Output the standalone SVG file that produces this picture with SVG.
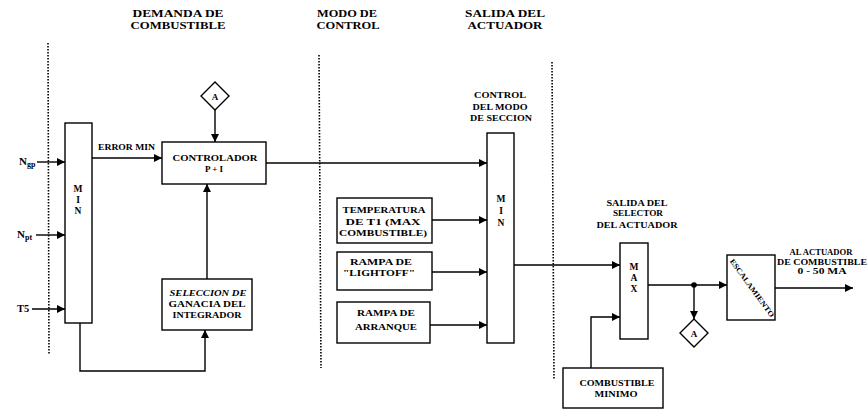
<svg xmlns="http://www.w3.org/2000/svg" width="868" height="409" viewBox="0 0 868 409">
<defs>
<marker id="arr" viewBox="0 0 10 10" refX="10" refY="5" markerWidth="9" markerHeight="8" markerUnits="userSpaceOnUse" orient="auto">
<path d="M0,0 L10,5 L0,10 Z" fill="#000"/>
</marker>
<style>
text{font-family:"Liberation Serif","Times New Roman",serif;fill:#000;font-weight:bold}
.t{font-size:11px;text-anchor:middle}
.s{font-size:9px;text-anchor:middle}
.v{font-size:9.5px;text-anchor:middle}
.box{fill:#fff;stroke:#000;stroke-width:1.4}
.ln{fill:none;stroke:#000;stroke-width:1.4}
.dot{fill:none;stroke:#000;stroke-width:1.6;stroke-dasharray:1.5 1.5}
</style>
</defs>
<rect width="868" height="409" fill="#fff"/>

<g id="titles">
<text class="t" x="178" y="17" textLength="91" lengthAdjust="spacingAndGlyphs">DEMANDA DE</text>
<text class="t" x="178" y="29" textLength="95" lengthAdjust="spacingAndGlyphs">COMBUSTIBLE</text>
<text class="t" x="347" y="17" textLength="60" lengthAdjust="spacingAndGlyphs">MODO DE</text>
<text class="t" x="348" y="29" textLength="63" lengthAdjust="spacingAndGlyphs">CONTROL</text>
<text class="t" x="505" y="17" textLength="80" lengthAdjust="spacingAndGlyphs">SALIDA DEL</text>
<text class="t" x="505" y="29" textLength="75" lengthAdjust="spacingAndGlyphs">ACTUADOR</text>
</g>

<g id="dividers">
<line class="dot" x1="48" y1="43" x2="49" y2="355"/>
<line class="dot" x1="319" y1="55" x2="321" y2="368"/>
<line class="dot" x1="552" y1="62" x2="554" y2="380"/>
</g>

<g id="inputs">
<text x="19" y="165" font-size="11">N<tspan font-size="8" dy="2">gp</tspan></text>
<text x="17" y="238" font-size="11">N<tspan font-size="8" dy="2">pt</tspan></text>
<text x="17" y="312" font-size="10.5">T5</text>
</g>

<g id="min1">
<rect class="box" x="65" y="123" width="27" height="200"/>
<text class="v" x="78" y="192">M</text>
<text class="v" x="78" y="203">I</text>
<text class="v" x="78" y="214">N</text>
</g>

<g id="controlador">
<rect class="box" x="162" y="142" width="104" height="42"/>
<text class="s" x="215" y="161" textLength="85" lengthAdjust="spacingAndGlyphs">CONTROLADOR</text>
<text class="s" x="214" y="172">P + I</text>
</g>

<g id="diamondA1">
<path class="box" d="M215,82 L229,96 L215,110 L201,96 Z"/>
<text class="s" x="215" y="99.5">A</text>
</g>

<g id="seleccion">
<rect class="box" x="162" y="279" width="90" height="51"/>
<text class="s" x="208" y="296" font-style="italic" textLength="77" lengthAdjust="spacingAndGlyphs">SELECCION DE</text>
<text class="s" x="207" y="307" textLength="77" lengthAdjust="spacingAndGlyphs">GANACIA DEL</text>
<text class="s" x="207" y="318" textLength="69" lengthAdjust="spacingAndGlyphs">INTEGRADOR</text>
</g>

<g id="temperatura">
<rect class="box" x="337" y="198" width="95" height="45"/>
<text class="s" x="384" y="213" textLength="83" lengthAdjust="spacingAndGlyphs">TEMPERATURA</text>
<text class="s" x="383" y="225" textLength="75" lengthAdjust="spacingAndGlyphs">DE T1 (MAX</text>
<text class="s" x="383" y="236" textLength="88" lengthAdjust="spacingAndGlyphs">COMBUSTIBLE)</text>
</g>

<g id="lightoff">
<rect class="box" x="337" y="252" width="95" height="38"/>
<text class="s" x="381" y="265" textLength="62" lengthAdjust="spacingAndGlyphs">RAMPA DE</text>
<text class="s" x="379" y="276" textLength="72" lengthAdjust="spacingAndGlyphs">"LIGHTOFF"</text>
</g>

<g id="arranque">
<rect class="box" x="337" y="302" width="93" height="41"/>
<text class="s" x="386" y="316" textLength="58" lengthAdjust="spacingAndGlyphs">RAMPA DE</text>
<text class="s" x="386" y="330" textLength="62" lengthAdjust="spacingAndGlyphs">ARRANQUE</text>
</g>

<g id="min2">
<text class="s" x="500" y="98" textLength="52" lengthAdjust="spacingAndGlyphs">CONTROL</text>
<text class="s" x="500" y="110" textLength="55" lengthAdjust="spacingAndGlyphs">DEL MODO</text>
<text class="s" x="501" y="121" textLength="62" lengthAdjust="spacingAndGlyphs">DE SECCION</text>
<rect class="box" x="487" y="133" width="27" height="210"/>
<text class="v" x="501" y="202">M</text>
<text class="v" x="501" y="214">I</text>
<text class="v" x="501" y="226">N</text>
</g>

<g id="max">
<text class="s" x="637" y="206" textLength="61" lengthAdjust="spacingAndGlyphs">SALIDA DEL</text>
<text class="s" x="638" y="216" textLength="50" lengthAdjust="spacingAndGlyphs">SELECTOR</text>
<text class="s" x="637" y="228" textLength="81" lengthAdjust="spacingAndGlyphs">DEL ACTUADOR</text>
<rect class="box" x="620" y="243" width="28" height="96"/>
<text class="v" x="634" y="270">M</text>
<text class="v" x="634" y="281">A</text>
<text class="v" x="634" y="292">X</text>
</g>

<g id="diamondA2">
<path class="box" d="M694,319 L708,333 L694,347 L680,333 Z"/>
<text class="s" x="694" y="336.5">A</text>
</g>

<g id="escalamiento">
<rect class="box" x="727" y="255" width="48" height="65"/>
<text font-size="7.5" text-anchor="middle" transform="translate(752,288) rotate(54)" y="2.5" textLength="70" lengthAdjust="spacingAndGlyphs">ESCALAMIENTO</text>
</g>

<g id="salida">
<text class="s" x="821" y="255" textLength="63" lengthAdjust="spacingAndGlyphs">AL ACTUADOR</text>
<text class="s" x="822" y="265" textLength="90" lengthAdjust="spacingAndGlyphs">DE COMBUSTIBLE</text>
<text class="s" x="822" y="274" textLength="49" lengthAdjust="spacingAndGlyphs">0 - 50 MA</text>
</g>

<g id="minimo">
<rect class="box" x="563" y="368" width="100" height="40"/>
<text class="s" x="617" y="386" textLength="75" lengthAdjust="spacingAndGlyphs">COMBUSTIBLE</text>
<text class="s" x="616" y="397" textLength="43" lengthAdjust="spacingAndGlyphs">MINIMO</text>
</g>

<g id="connectors">
<line class="ln" x1="37" y1="162" x2="65" y2="162" marker-end="url(#arr)"/>
<line class="ln" x1="36" y1="235" x2="65" y2="235" marker-end="url(#arr)"/>
<line class="ln" x1="32" y1="309" x2="65" y2="309" marker-end="url(#arr)"/>
<line class="ln" x1="92" y1="158" x2="162" y2="158" marker-end="url(#arr)"/>
<text x="98" y="150" font-size="8.5" textLength="57" lengthAdjust="spacingAndGlyphs">ERROR MIN</text>
<line class="ln" x1="215" y1="110" x2="215" y2="142" marker-end="url(#arr)"/>
<line class="ln" x1="207" y1="279" x2="207" y2="184" marker-end="url(#arr)"/>
<path class="ln" d="M80,323 V371 H205 V330" marker-end="url(#arr)"/>
<line class="ln" x1="266" y1="163" x2="487" y2="163" marker-end="url(#arr)"/>
<line class="ln" x1="432" y1="220" x2="487" y2="220" marker-end="url(#arr)"/>
<line class="ln" x1="432" y1="272" x2="487" y2="272" marker-end="url(#arr)"/>
<line class="ln" x1="430" y1="325" x2="487" y2="325" marker-end="url(#arr)"/>
<line class="ln" x1="514" y1="265" x2="620" y2="265" marker-end="url(#arr)"/>
<line class="ln" x1="648" y1="285" x2="727" y2="285" marker-end="url(#arr)"/>
<circle cx="694" cy="285" r="2.8" fill="#000"/>
<line class="ln" x1="694" y1="285" x2="694" y2="319" marker-end="url(#arr)"/>
<path class="ln" d="M591,368 V317 H620" marker-end="url(#arr)"/>
<line class="ln" x1="775" y1="288" x2="853" y2="288" marker-end="url(#arr)"/>
</g>
</svg>
